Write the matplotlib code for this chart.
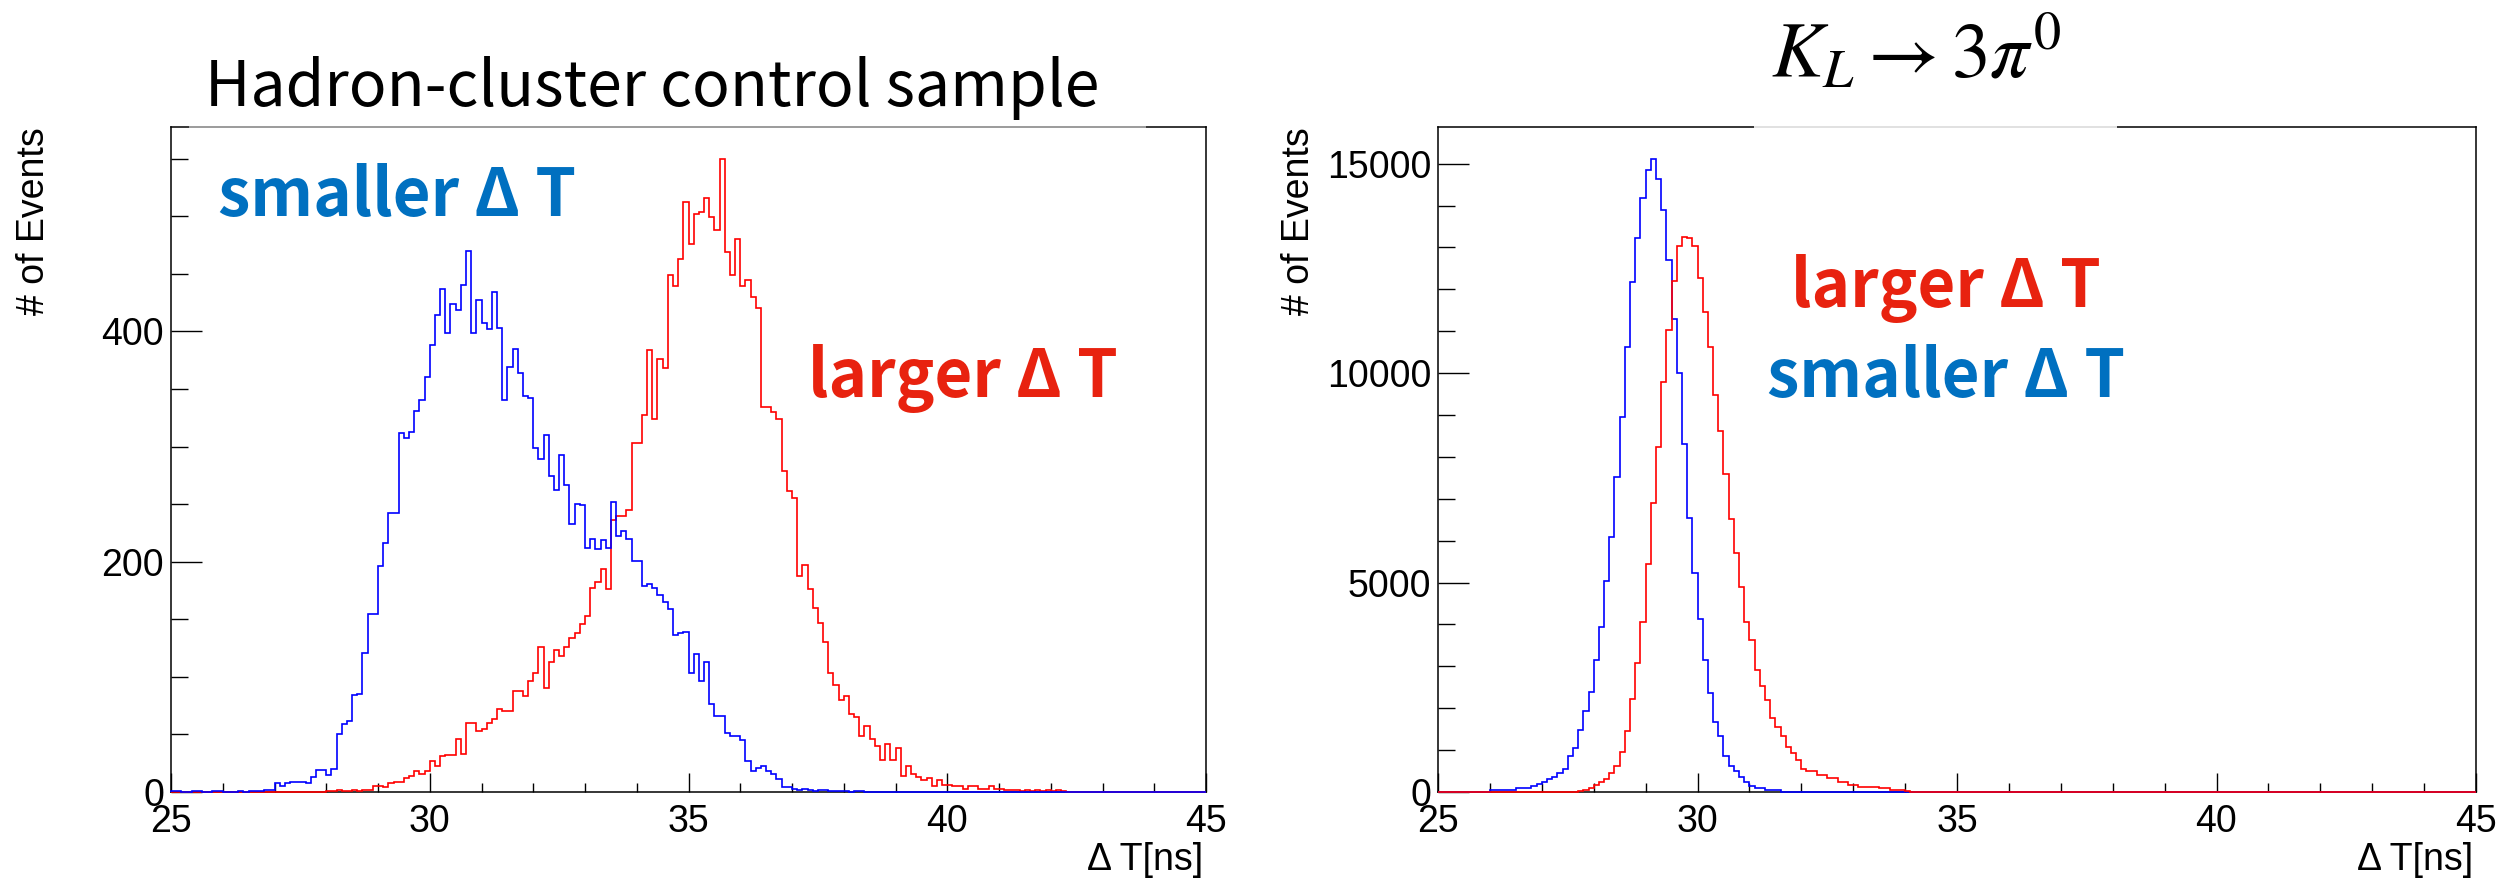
import numpy as np
import matplotlib
matplotlib.use('Agg')
import matplotlib.pyplot as plt
from matplotlib.patches import Rectangle

W, H = 2520, 881
BIN = 0.1
X_LO, X_HI = 25, 45

plt.rcParams['font.family'] = ['Liberation Sans', 'DejaVu Sans']
plt.rcParams['mathtext.fontset'] = 'stix'

# counts per 0.1 ns bin
# Hadron-cluster control sample
had_small_start = 25.0
had_small = [1, 1, 0, 0, 1, 1, 0, 0, 1, 1,
             0, 0, 0, 1, 0, 1, 1, 1, 2, 2,
             8, 5, 8, 9, 9, 9, 8, 13, 19, 19,
             15, 20, 50, 59, 62, 84, 85, 121, 155, 155,
             196, 216, 242, 242, 312, 307, 313, 331, 340, 360,
             388, 414, 437, 399, 424, 419, 440, 470, 399, 427,
             407, 402, 434, 403, 340, 369, 385, 364, 344, 342,
             299, 289, 310, 274, 262, 293, 267, 233, 250, 249,
             212, 220, 211, 219, 212, 252, 222, 227, 220, 201,
             201, 179, 181, 177, 171, 165, 159, 136, 138, 139,
             103, 120, 96, 113, 76, 66, 66, 51, 49, 49,
             45, 27, 18, 21, 23, 18, 16, 11, 4, 4,
             3, 2, 3, 2, 1, 2, 2, 1, 1, 1,
             1, 0, 1, 1]
had_large_start = 28.0
had_large = [1, 1, 2, 1, 1, 2, 1, 2, 2, 5,
             5, 4, 8, 9, 9, 12, 14, 18, 16, 18,
             27, 23, 31, 32, 32, 46, 33, 60, 60, 53,
             55, 60, 63, 72, 70, 70, 88, 88, 83, 96,
             103, 126, 90, 113, 123, 118, 126, 134, 138, 146,
             153, 177, 182, 194, 176, 236, 240, 240, 245, 303,
             303, 327, 384, 324, 376, 368, 449, 439, 463, 512,
             476, 502, 504, 516, 499, 488, 550, 469, 449, 480,
             439, 445, 430, 420, 334, 334, 330, 324, 279, 261,
             255, 188, 197, 176, 160, 147, 130, 103, 93, 80,
             83, 68, 65, 49, 57, 46, 40, 28, 42, 28,
             38, 14, 23, 16, 13, 10, 12, 5, 10, 6,
             6, 5, 5, 3, 5, 5, 3, 3, 5, 3,
             3, 2, 2, 2, 1, 2, 1, 2, 1, 2,
             1, 2, 1]

# KL -> 3pi0
kl_small_start = 26.0
kl_small = [40, 40, 40, 40, 40, 90, 90, 100, 140, 190,
            245, 300, 370, 450, 555, 865, 1050, 1485, 1930, 2395,
            3140, 3945, 5030, 6085, 7510, 8955, 10630, 12180, 13230, 14190,
            14840, 15120, 14640, 13900, 12690, 11300, 10010, 8300, 6530, 5225,
            4140, 3140, 2360, 1680, 1330, 860, 630, 510, 350, 250,
            140, 90, 90, 40, 40, 40]
kl_large_start = 27.7
kl_large = [20, 40, 90, 160, 245, 320, 450, 630, 950, 1465,
            2210, 3090, 4070, 5440, 6910, 8230, 9800, 11040, 12210, 13040,
            13260, 13230, 13040, 12280, 11470, 10630, 9470, 8610, 7600, 6520,
            5700, 4890, 4070, 3630, 2910, 2520, 2190, 1765, 1560, 1330,
            1070, 920, 760, 555, 490, 490, 400, 400, 330, 330,
            245, 245, 170, 170, 110, 110, 110, 110, 90, 90,
            40, 40, 40, 20]

edges = np.linspace(X_LO, X_HI, int(round((X_HI - X_LO) / BIN)) + 1)


def full_hist(start, counts):
    h = np.zeros(len(edges) - 1)
    i0 = int(round((start - X_LO) / BIN))
    h[i0:i0 + len(counts)] = counts
    return h


def fpos(x, y):
    return x / W, 1 - y / H


def frame(ax, ymajor, yminor, ymax):
    ax.set_xlim(X_LO, X_HI)
    ax.set_ylim(0, ymax)
    ax.set_xticks(np.arange(25, 46, 5))
    ax.set_xticks(np.arange(25, 46, 1), minor=True)
    ax.set_yticks(np.arange(0, ymax, ymajor))
    ax.set_yticks(np.arange(0, ymax, yminor), minor=True)
    for s in ax.spines.values():
        s.set_linewidth(1.1)
    ax.tick_params(which='both', direction='in', top=False, right=False,
                   width=1.0, labelsize=27, colors='black')
    ax.tick_params(axis='x', which='major', length=13.5, pad=9)
    ax.tick_params(axis='x', which='minor', length=6.8)
    ax.tick_params(axis='y', which='major', length=22, pad=5)
    ax.tick_params(axis='y', which='minor', length=12)


fig = plt.figure(figsize=(W / 100, H / 100), dpi=100)
ax1 = fig.add_axes([171 / W, 89 / H, 1035 / W, 665 / H])
ax2 = fig.add_axes([1438 / W, 89 / H, 1038 / W, 665 / H])

# left panel
h_large = full_hist(had_large_start, had_large)
h_small = full_hist(had_small_start, had_small)
ax1.stairs(h_large, edges, color='#ff0000', lw=1.2, clip_on=False, zorder=3)
ax1.stairs(h_small, edges, color='#0000ff', lw=1.2, clip_on=False, zorder=4)
frame(ax1, 200, 50, 1.05 * max(h_large.max(), h_small.max()))

# right panel
k_small = full_hist(kl_small_start, kl_small)
k_large = full_hist(kl_large_start, kl_large)
ax2.stairs(k_small, edges, color='#0000ff', lw=1.2, clip_on=False, zorder=3)
ax2.stairs(k_large, edges, color='#ff0000', lw=1.2, clip_on=False, zorder=4)
frame(ax2, 5000, 1000, 1.05 * max(k_small.max(), k_large.max()))

# axis titles, ROOT style
for xc, xr in [(34, 1203), (1299, 2473)]:
    fig.text(*fpos(xc, 127), '# of Events', rotation=90, ha='center',
             va='top', fontsize=27)
    fig.text(*fpos(xr, 870), 'Δ T[ns]', ha='right', va='baseline',
             fontsize=27)

# title boxes partly hide the top frame line
fig.add_artist(Rectangle(fpos(189, 130), (1146 - 189) / W, 6 / H,
                         transform=fig.transFigure, facecolor='white',
                         edgecolor='none', alpha=0.5, zorder=10))
fig.add_artist(Rectangle(fpos(1754, 130), (2117 - 1754) / W, 6 / H,
                         transform=fig.transFigure, facecolor='white',
                         edgecolor='none', alpha=0.85, zorder=10))

cjk = ['Noto Sans CJK JP', 'DejaVu Sans']
fig.text(*fpos(205, 106), 'Hadron-cluster control sample', family=cjk,
         fontsize=45, ha='left', va='baseline')
fig.text(*fpos(1916, 77), r'$K_L \rightarrow \mathit{3}\pi^{0}$',
         fontsize=56, ha='center', va='baseline')

blue_txt = '#0070c0'
red_txt = '#e8220f'
fig.text(*fpos(218, 216), 'smaller Δ T', family=cjk, fontsize=47,
         fontweight='bold', color=blue_txt, ha='left', va='baseline')
fig.text(*fpos(808, 397), 'larger Δ T', family=cjk, fontsize=47,
         fontweight='bold', color=red_txt, ha='left', va='baseline')
fig.text(*fpos(1791, 307), 'larger Δ T', family=cjk, fontsize=47,
         fontweight='bold', color=red_txt, ha='left', va='baseline')
fig.text(*fpos(1767, 397), 'smaller Δ T', family=cjk, fontsize=47,
         fontweight='bold', color=blue_txt, ha='left', va='baseline')

fig.savefig('out.png', dpi=100, facecolor='white')
